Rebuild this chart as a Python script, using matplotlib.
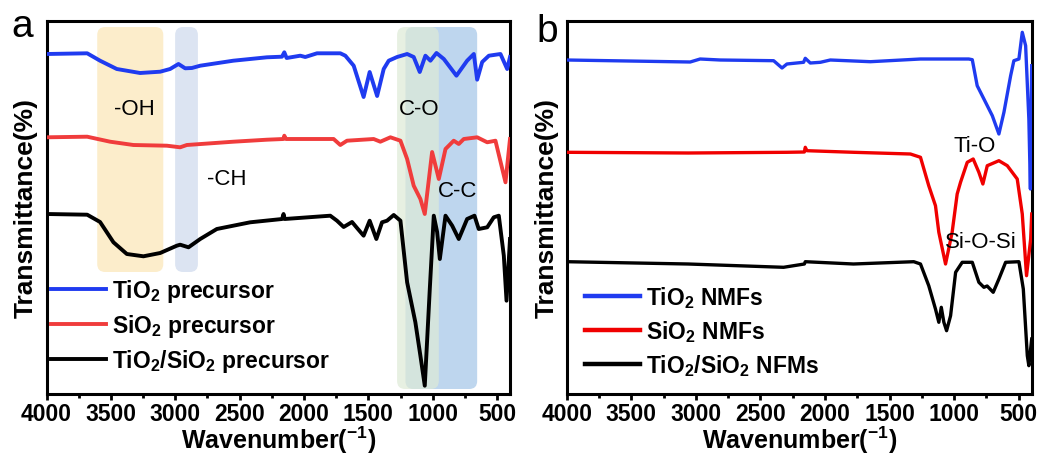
import matplotlib
matplotlib.use("Agg")
import matplotlib.pyplot as plt
from matplotlib.patches import FancyBboxPatch

plt.rcParams['font.family'] = ['Liberation Sans', 'DejaVu Sans']
plt.rcParams['mathtext.fontset'] = 'custom'
plt.rcParams['mathtext.rm'] = 'Liberation Sans:bold'
plt.rcParams['mathtext.it'] = 'Liberation Sans:bold'
plt.rcParams['mathtext.bf'] = 'Liberation Sans:bold'

# ---------------- Panel a data (wavenumber, transmittance a.u.) ----------------
a_blue_w = [4000, 3684, 3584, 3454, 3273, 3117, 3040, 2975, 2923, 2871, 2806, 2549, 2288, 2171, 2153, 2135,
            2029, 1990, 1899, 1718, 1679, 1614, 1537, 1490, 1432, 1381, 1342, 1277, 1199, 1148, 1101, 1057,
            1018, 971, 914, 816, 733, 681, 655, 616, 564, 474, 422, 400]
a_blue_t = [340, 340.7, 333.3, 325, 321, 322.3, 325, 330, 325.7, 326, 328.3, 333.3, 336.7, 337.3, 341.7, 336,
            338.3, 337, 340.7, 340.7, 338.3, 328.3, 297, 322, 298, 325, 333.3, 337, 340, 337, 322, 338.3,
            333.3, 341, 335, 318.3, 333.3, 340, 314.3, 332, 338.3, 340, 325, 337]

a_red_w = [4000, 3684, 3506, 3325, 3065, 2962, 2910, 2548, 2288, 2160, 2153, 2140, 2108, 1770, 1718, 1666,
           1459, 1407, 1329, 1251, 1199, 1148, 1096, 1062, 1005, 953, 901, 837, 798, 759, 655, 577, 513,
           435, 400]
a_red_t = [256.7, 257.3, 252.3, 249, 248.3, 246.7, 249, 252.3, 254.3, 255, 258.3, 255, 255, 255, 249, 253.3,
           255, 252.3, 256.7, 253.3, 235, 208.3, 195, 180, 242, 215, 245, 253.3, 250, 255, 256.7, 251.7, 253.3,
           211.7, 255]

a_black_w = [4000, 3684, 3584, 3480, 3376, 3247, 3117, 2988, 2962, 2897, 2806, 2677, 2418, 2170, 2159, 2150,
             1796, 1744, 1692, 1627, 1588, 1537, 1490, 1438, 1394, 1355, 1303, 1251, 1199, 1135, 1096, 1062,
             1023, 992, 966, 945, 901, 849, 798, 733, 676, 643, 577, 526, 487, 448, 427, 400]
a_black_t = [180, 179.3, 172, 151.7, 140, 137.7, 141, 148.3, 149.3, 146.7, 155, 165, 171.7, 175, 180, 175,
             178.3, 173.3, 167, 172, 166, 158.3, 173.3, 155, 171.7, 173.3, 179, 173.3, 111.7, 71.7, 38.3, 8.3,
             105, 178.3, 162, 135, 178.3, 168.3, 155, 175, 178.3, 165, 166.7, 176.7, 178.3, 138.3, 93.3, 155]

a_labels = ['TiO$_\\mathrm{2}$ precursor', 'SiO$_\\mathrm{2}$ precursor',
            'TiO$_\\mathrm{2}$/SiO$_\\mathrm{2}$ precursor']

# shaded bands: (low wavenumber, high wavenumber, bottom, top)
band_oh = (3093, 3606, 122, 367)
band_ch = (2824, 3001, 122, 367)
band_cc = (655, 1212, 5, 367)
band_co = (953, 1277, 5, 367)

# ---------------- Panel b data ----------------
b_blue_w = [4000, 3044, 2967, 2812, 2398, 2333, 2295, 2166, 2153, 2114, 2036, 1959, 1649, 1261, 887, 860,
            822, 770, 705, 654, 615, 563, 538, 499, 473, 447, 422, 410, 400]
b_blue_t = [334, 332, 335, 334, 333.3, 326, 330, 331.7, 335.7, 331, 331.7, 334, 332.3, 335, 335, 334.3,
            308.3, 295, 278.3, 260, 281.7, 318.3, 333.3, 335, 361.7, 348.3, 275, 205, 328.3]

b_red_w = [4000, 3060, 2295, 2160, 2153, 2140, 1778, 1339, 1261, 1197, 1145, 1119, 1067, 1016, 977, 951,
           899, 853, 809, 778, 744, 654, 589, 512, 473, 440, 408, 400]
b_red_t = [241.7, 241, 241.7, 242, 246.7, 243.3, 241.7, 240, 236.7, 208.3, 188.3, 161.7, 130, 161.7, 200, 211.7,
           231.7, 235, 221.7, 210, 228.3, 233.3, 228.3, 215, 180, 118.3, 155, 180]

b_black_w = [4000, 3060, 2321, 2160, 2153, 1780, 1313, 1261, 1197, 1145, 1119, 1100, 1080, 1059, 1028, 989,
             938, 860, 809, 770, 745, 698, 654, 602, 499, 465, 434, 422, 400]
b_black_t = [132.3, 130, 126.7, 130, 132.3, 130, 132.3, 130, 108.3, 85, 71.7, 86.7, 71.7, 63.3, 78.3, 121.7,
             131.7, 131.7, 111.7, 106.7, 108, 101.7, 115, 131.7, 132.3, 105, 38.3, 28.3, 55]

b_labels = ['TiO$_\\mathrm{2}$ NMFs', 'SiO$_\\mathrm{2}$ NMFs', 'TiO$_\\mathrm{2}$/SiO$_\\mathrm{2}$ NFMs']

xticks = [4000, 3500, 3000, 2500, 2000, 1500, 1000, 500]
xlabel = 'Wavenumber($^{\\mathrm{-1}}$)'
ylabel = 'Transmittance(%)'

fig = plt.figure(figsize=(10.45, 4.56), dpi=100)
W, H = 1045, 456
axa = fig.add_axes([46.5 / W, 1 - 395 / H, 463.5 / W, 373 / H])
axb = fig.add_axes([566.7 / W, 1 - 395 / H, 465 / W, 373 / H])


def style(ax):
    ax.set_xlim(4000, 400)
    ax.set_ylim(0, 373)
    ax.set_xticks(xticks)
    ax.set_xticks([3750, 3250, 2750, 2250, 1750, 1250, 750], minor=True)
    ax.set_yticks([])
    ax.tick_params(axis='x', which='major', direction='out', length=4, width=2, pad=2,
                   labelsize=16.5)
    ax.tick_params(axis='x', which='minor', direction='out', length=3, width=2)
    for lab in ax.get_xticklabels():
        lab.set_fontweight('bold')
    for s in ax.spines.values():
        s.set_linewidth(2.2)
    ax.set_xlabel(xlabel, fontsize=18, fontweight='bold', labelpad=-1)
    ax.set_ylabel(ylabel, fontsize=19, fontweight='bold', labelpad=6)


def band(ax, b, color, alpha=1.0, z=0.5):
    lo, hi, bot, top = b
    r = 62
    p = FancyBboxPatch((lo, bot), hi - lo, top - bot,
                       boxstyle=f"round,pad=0,rounding_size={r}",
                       mutation_aspect=8 / r, facecolor=color, edgecolor='none',
                       alpha=alpha, zorder=z)
    ax.add_patch(p)


style(axa)
band(axa, band_oh, '#FCEDCB')
band(axa, band_ch, '#DCE4F2')
band(axa, band_cc, '#BED6EE')
band(axa, band_co, '#DEEAD6', alpha=0.7, z=0.6)

lw = 2.8
axa.plot(a_blue_w, a_blue_t, color='#1F3BF0', lw=lw, label=a_labels[0], solid_joinstyle='round', zorder=3)
axa.plot(a_red_w, a_red_t, color='#F03C3C', lw=lw, label=a_labels[1], solid_joinstyle='round', zorder=3)
axa.plot(a_black_w, a_black_t, color='black', lw=lw, label=a_labels[2], solid_joinstyle='round', zorder=3)

tk = dict(fontsize=16, ha='center', va='center', zorder=4)
axa.text(3318, 285, '-OH', **tk)
axa.text(2599, 215, '-CH', **tk)
axa.text(1105, 285, 'C-O', **tk)
axa.text(804, 203, 'C-C', **tk)

axa.legend(loc='lower left', bbox_to_anchor=(0.0, 0.04), frameon=False,
           prop=dict(size=16.5, weight='bold'), handlelength=2.4, handletextpad=0.25,
           labelspacing=0.35, borderaxespad=0, borderpad=0.2)

style(axb)
axb.plot(b_blue_w, b_blue_t, color='#1F3BF0', lw=2.4, label=b_labels[0], solid_joinstyle='round', zorder=3)
axb.plot(b_red_w, b_red_t, color='#F00000', lw=2.4, label=b_labels[1], solid_joinstyle='round', zorder=3)
axb.plot(b_black_w, b_black_t, color='black', lw=2.4, label=b_labels[2], solid_joinstyle='round', zorder=3)
axb.text(841, 248, 'Ti-O', **tk)
axb.text(790, 152.5, 'Si-O-Si', **tk)
leg = axb.legend(loc='lower left', bbox_to_anchor=(0.03, 0.03), frameon=False,
                 prop=dict(size=16.5, weight='bold'), handlelength=2.4, handletextpad=0.25,
                 labelspacing=0.35, borderaxespad=0, borderpad=0.2)
for l in leg.get_lines():
    l.set_linewidth(3.2)

fig.text(22 / W, 1 - 27 / H, 'a', fontsize=28, ha='center', va='center')
fig.text(547 / W, 1 - 32 / H, 'b', fontsize=28, ha='center', va='center')

fig.savefig('out.png', dpi=100)
